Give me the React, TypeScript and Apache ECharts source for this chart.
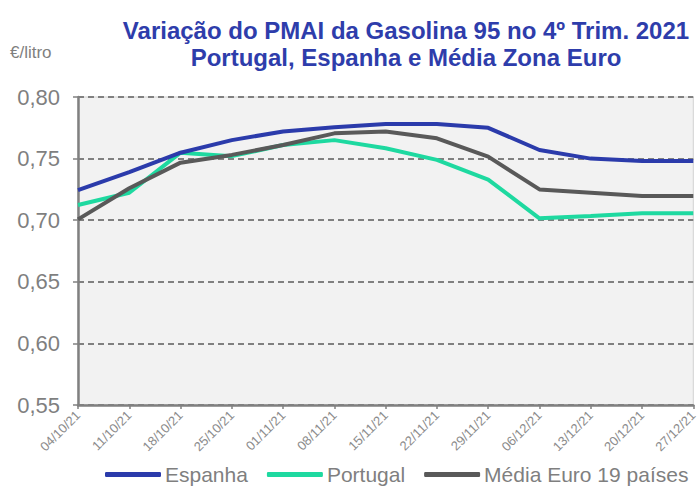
import React, { useEffect, useRef } from "react";
import * as echarts from "echarts";

const categories = ["04/10/21","11/10/21","18/10/21","25/10/21","01/11/21","08/11/21","15/11/21","22/11/21","29/11/21","06/12/21","13/12/21","20/12/21","27/12/21"];
const espanha = [0.7245,0.739,0.7548,0.765,0.772,0.7754,0.778,0.778,0.775,0.757,0.750,0.748,0.748];
const portugal = [0.7123,0.7223,0.7548,0.752,0.761,0.765,0.7584,0.749,0.733,0.7015,0.7034,0.7056,0.7056];
const mediaEuro = [0.7007,0.726,0.7467,0.753,0.761,0.7705,0.772,0.7665,0.7516,0.725,0.7223,0.7196,0.7196];
const seriesNames = ["Espanha","Portugal","Média Euro 19 países"];
const colors = ["#2B3BAB","#1ED9A0","#595959"];

const FONT = "'Liberation Sans', Arial, sans-serif";

export default function App() {
  const ref = useRef<HTMLDivElement>(null);
  useEffect(() => {
    const chart = echarts.init(ref.current!, null, { renderer: "svg" });
    const data = [espanha, portugal, mediaEuro];
    chart.setOption({
      animation: false,
      backgroundColor: "#ffffff",
      textStyle: { fontFamily: FONT },
      title: {
        text: "Variação do PMAI da Gasolina 95 no 4º Trim. 2021\nPortugal, Espanha e Média Zona Euro",
        left: 401,
        top: 12,
        textAlign: "center",
        textStyle: { fontFamily: FONT, fontSize: 24, fontWeight: "bold", color: "#2E3DAB", lineHeight: 27 },
      },
      graphic: [
        { type: "text", left: 10, top: 44, style: { text: "€/litro", fontFamily: FONT, fontSize: 17, fill: "#7F7F7F" } },
      ],
      legend: {
        top: 464,
        left: 105,
        padding: 0,
        itemWidth: 56,
        itemHeight: 5,
        itemGap: 19,
        icon: "roundRect",
        textStyle: { fontFamily: FONT, fontSize: 21, lineHeight: 20, color: "#7F7F7F", padding: [0, 0, 0, -1] },
        data: seriesNames,
      },
      grid: { left: 78, top: 97, right: 2, bottom: 83, containLabel: false, show: true, backgroundColor: "#F2F2F2", borderColor: "#D0D0D0", borderWidth: 1 },
      xAxis: {
        type: "category",
        data: categories,
        boundaryGap: false,
        axisLine: { show: true, lineStyle: { color: "#808080", width: 2.5 } },
        axisTick: { show: true, alignWithLabel: true, lineStyle: { color: "#808080", width: 1.5 }, length: 4 },
        axisLabel: { rotate: 45, fontFamily: FONT, fontSize: 13, color: "#8C8C8C", interval: 0, margin: 8 },
        splitLine: { show: false },
      },
      yAxis: {
        type: "value",
        min: 0.55,
        max: 0.8,
        interval: 0.05,
        axisLine: { show: true, lineStyle: { color: "#808080", width: 2.5 } },
        axisTick: { show: true, lineStyle: { color: "#808080", width: 1.5 }, length: 5 },
        axisLabel: {
          fontFamily: FONT,
          fontSize: 22,
          color: "#7F7F7F",
          margin: 18,
          formatter: (v: number) => v.toFixed(2).replace(".", ","),
        },
        splitLine: { show: true, lineStyle: { color: "#808080", width: 2, type: [6, 4] } },
      },
      series: seriesNames.map((name, i) => ({
        name,
        type: "line",
        data: data[i],
        symbol: "none",
        lineStyle: { color: colors[i], width: 4 },
        itemStyle: { color: colors[i] },
        z: i === 0 ? 3 : i === 2 ? 2 : 1,
      })),
    });
    return () => chart.dispose();
  }, []);
  return <div ref={ref} style={{ width: 700, height: 488, position: "absolute", left: 0, top: 0 }} />;
}
